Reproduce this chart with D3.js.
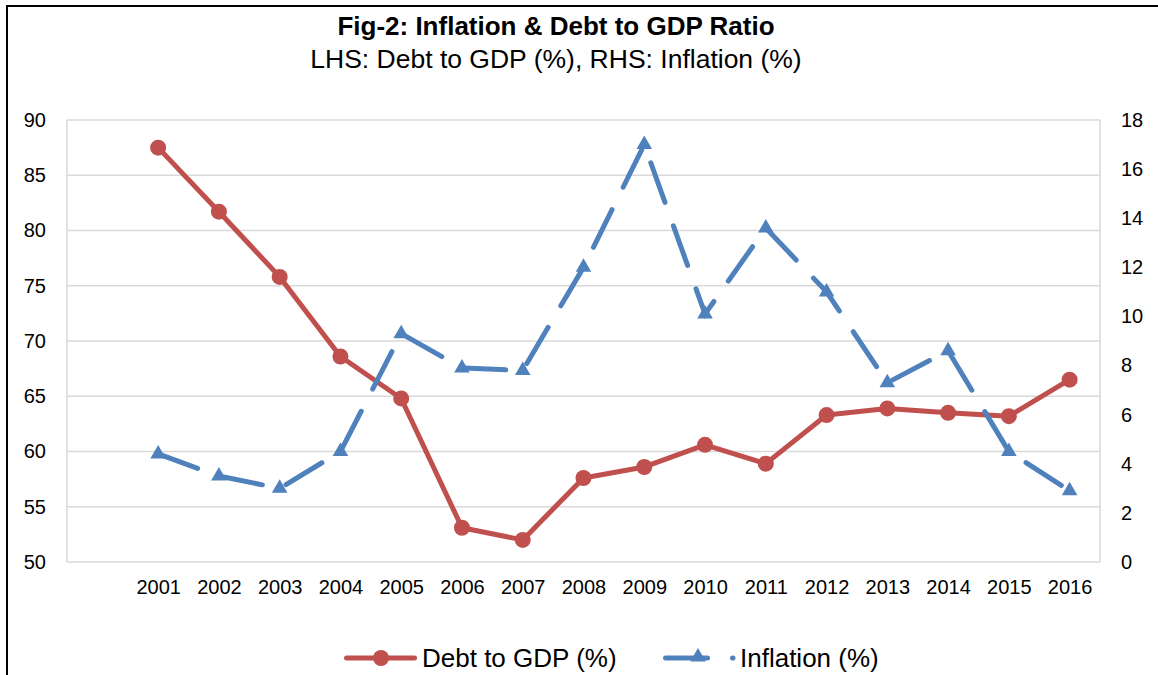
<!DOCTYPE html>
<html>
<head>
<meta charset="utf-8">
<script src="https://cdn.jsdelivr.net/npm/d3@7"></script>
<style>
  html, body { margin: 0; padding: 0; background: #fff; }
  svg { display: block; font-family: "Liberation Sans", Arial, sans-serif; }
</style>
</head>
<body>
<svg id="chart" width="1158" height="675"></svg>
<script>
const years = ["2001","2002","2003","2004","2005","2006","2007","2008","2009","2010","2011","2012","2013","2014","2015","2016"];
const debtToGDP = [87.5, 81.7, 75.8, 68.6, 64.8, 53.1, 52.0, 57.6, 58.6, 60.6, 58.9, 63.3, 63.9, 63.5, 63.2, 66.5];
const inflation = [4.4, 3.5, 3.0, 4.5, 9.3, 7.9, 7.8, 12.0, 17.0, 10.1, 13.6, 11.0, 7.3, 8.6, 4.5, 2.9];
const leftTicks = [50, 55, 60, 65, 70, 75, 80, 85, 90];
const rightTicks = [0, 2, 4, 6, 8, 10, 12, 14, 16, 18];
const titleText = "Fig-2: Inflation & Debt to GDP Ratio";
const subtitleText = "LHS: Debt to GDP (%), RHS: Inflation (%)";
const seriesNames = ["Debt to GDP (%)", "Inflation (%)"];

const RED = "#C0504D", BLUE = "#4F81BD", GRID = "#d9d9d9";
const FONT = "Liberation Sans, Arial, sans-serif";
const svg = d3.select("#chart");

// outer frame
svg.append("rect").attr("x", 7).attr("y", 6).attr("width", 1170).attr("height", 700)
  .attr("fill", "none").attr("stroke", "#000").attr("stroke-width", 2);

const plot = { left: 67, right: 1100, top: 120, bottom: 562 };

const x = d3.scalePoint()
  .domain(["", ...years])
  .range([plot.left, plot.right])
  .padding(0.5);
const yL = d3.scaleLinear().domain([50, 90]).range([plot.bottom, plot.top]);
const yR = d3.scaleLinear().domain([0, 18]).range([plot.bottom, plot.top]);

// gridlines
svg.append("g").selectAll("line").data(leftTicks).join("line")
  .attr("x1", plot.left).attr("x2", plot.right)
  .attr("y1", d => yL(d)).attr("y2", d => yL(d))
  .attr("stroke", GRID).attr("stroke-width", 1.5);
svg.append("line").attr("x1", plot.left).attr("x2", plot.left).attr("y1", plot.top).attr("y2", plot.bottom)
  .attr("stroke", GRID).attr("stroke-width", 1.5);
svg.append("line").attr("x1", plot.right).attr("x2", plot.right).attr("y1", plot.top).attr("y2", plot.bottom)
  .attr("stroke", GRID).attr("stroke-width", 1.5);

// axes
const axL = svg.append("g").attr("transform", `translate(${plot.left - 15},0)`)
  .call(d3.axisLeft(yL).tickValues(leftTicks).tickSize(0).tickPadding(6));
const axR = svg.append("g").attr("transform", `translate(${plot.right + 15},0)`)
  .call(d3.axisRight(yR).tickValues(rightTicks).tickSize(0).tickPadding(6));
const axB = svg.append("g").attr("transform", `translate(0,${plot.bottom + 8})`)
  .call(d3.axisBottom(x).tickValues(years).tickSize(0).tickPadding(10));
[axL, axR, axB].forEach(a => {
  a.select(".domain").remove();
  a.selectAll("text").attr("font-size", 20).attr("fill", "#000").attr("font-family", FONT);
});

// debt line
const lineL = d3.line().x((d, i) => x(years[i])).y(d => yL(d));
svg.append("path").datum(debtToGDP).attr("d", lineL)
  .attr("fill", "none").attr("stroke", RED).attr("stroke-width", 5)
  .attr("stroke-linejoin", "round").attr("stroke-linecap", "round");
svg.append("g").selectAll("circle").data(debtToGDP).join("circle")
  .attr("cx", (d, i) => x(years[i])).attr("cy", d => yL(d)).attr("r", 8).attr("fill", RED);

// inflation line
const lineR = d3.line().x((d, i) => x(years[i])).y(d => yR(d));
svg.append("path").datum(inflation).attr("d", lineR)
  .attr("fill", "none").attr("stroke", BLUE).attr("stroke-width", 5)
  .attr("stroke-dasharray", "42,25").attr("stroke-linecap", "round");
const tri = d3.symbol().type(d3.symbolTriangle).size(105);
svg.append("g").selectAll("path").data(inflation).join("path")
  .attr("d", tri)
  .attr("transform", (d, i) => `translate(${x(years[i])},${yR(d)})`)
  .attr("fill", BLUE);

// titles
svg.append("text").attr("x", 556).attr("y", 35).attr("text-anchor", "middle")
  .attr("font-size", 26).attr("font-weight", "bold").text(titleText);
svg.append("text").attr("x", 556).attr("y", 68).attr("text-anchor", "middle")
  .attr("font-size", 26.5).text(subtitleText);

// legend
const lg = svg.append("g");
const ly = 658;
lg.append("line").attr("x1", 346.5).attr("x2", 414.5).attr("y1", ly).attr("y2", ly)
  .attr("stroke", RED).attr("stroke-width", 5).attr("stroke-linecap", "round");
lg.append("circle").attr("cx", 381).attr("cy", ly).attr("r", 8).attr("fill", RED);
lg.append("text").attr("x", 422).attr("y", ly + 9).attr("font-size", 26).text(seriesNames[0]);
lg.append("line").attr("x1", 665.5).attr("x2", 733).attr("y1", ly).attr("y2", ly)
  .attr("stroke", BLUE).attr("stroke-width", 5).attr("stroke-linecap", "round")
  .attr("stroke-dasharray", "42,25");
lg.append("path").attr("d", tri).attr("transform", `translate(698,${ly - 1})`).attr("fill", BLUE);
lg.append("text").attr("x", 740).attr("y", ly + 9).attr("font-size", 26).text(seriesNames[1]);
</script>
</body>
</html>
